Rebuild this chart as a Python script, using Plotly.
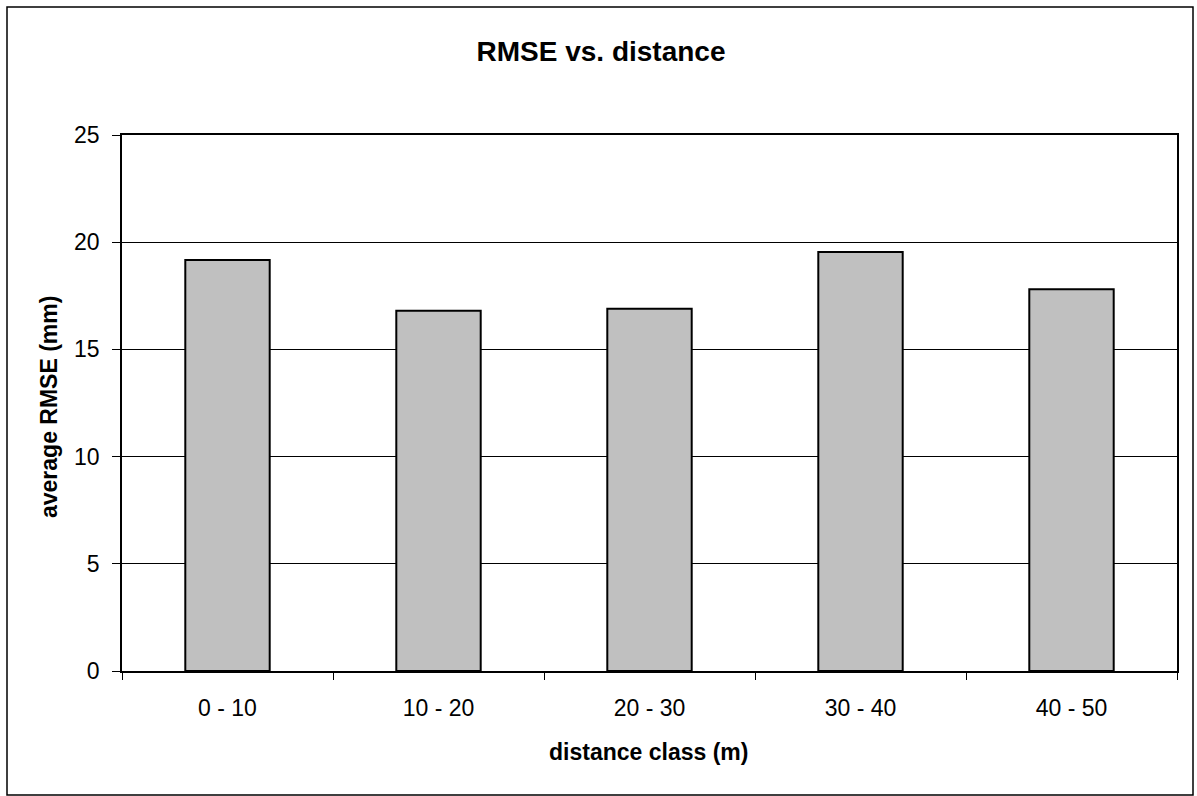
import plotly.graph_objects as go

categories = ["0 - 10", "10 - 20", "20 - 30", "30 - 40", "40 - 50"]
rmse = [19.17, 16.80, 16.90, 19.54, 17.80]
y_ticks = [0, 5, 10, 15, 20, 25]

W, H = 1197, 796
L, R, T, B = 122, 20, 135, 125
pw = W - L - R
ph = H - T - B

def px(x):
    return (x - L) / pw

def py(y):
    return (H - B - y) / ph

FONT = "Liberation Sans, Arial, sans-serif"
n = len(categories)

fig = go.Figure()
fig.add_trace(go.Bar(
    x=categories, y=rmse,
    marker=dict(color="#c0c0c0", line=dict(color="black", width=2)),
    hoverinfo="x+y",
))

fig.update_layout(
    width=W, height=H,
    margin=dict(l=L, r=R, t=T, b=B),
    paper_bgcolor="white", plot_bgcolor="white",
    bargap=0.6,
    showlegend=False,
    font=dict(family=FONT, color="black", size=23),
    title=dict(text="<b>RMSE vs. distance</b>", x=601 / W, xref="container",
               xanchor="center", y=1 - 51 / H, yref="container", yanchor="middle",
               font=dict(size=28)),
    shapes=[dict(type="rect", xref="paper", yref="paper",
                 x0=px(7), x1=px(1193), y0=py(795), y1=py(7),
                 line=dict(color="black", width=1.5), fillcolor="rgba(0,0,0,0)")],
    annotations=[
        dict(text="<b>distance class (m)</b>", xref="paper", yref="paper",
             x=px(648), y=py(752), xanchor="center", yanchor="middle",
             showarrow=False, font=dict(size=23)),
        dict(text="<b>average RMSE (mm)</b>", xref="paper", yref="paper",
             x=px(49), y=py(407), xanchor="center", yanchor="middle",
             textangle=-90, showarrow=False, font=dict(size=23)),
    ],
)

fig.update_xaxes(
    showline=True, linecolor="black", linewidth=1.5, mirror=True,
    ticks="", showgrid=False,
    tickfont=dict(size=23),
    ticklabelstandoff=16,
)
fig.update_yaxes(
    range=[0, 25], tickvals=y_ticks,
    showline=True, linecolor="black", linewidth=1.5, mirror=True,
    ticks="outside", ticklen=8, tickcolor="black", tickwidth=1,
    showgrid=True, gridcolor="black", gridwidth=1,
    tickfont=dict(size=23),
    ticklabelstandoff=8,
)

# category boundary tick marks on x axis (drawn with a secondary axis)
fig.update_layout(xaxis2=dict(
    overlaying="x", range=[-0.5, n - 0.5],
    tickvals=[i - 0.5 for i in range(n + 1)],
    ticktext=[""] * (n + 1),
    ticks="outside", ticklen=8, tickcolor="black", tickwidth=1,
    showgrid=False, showline=False, zeroline=False, side="bottom", anchor="y",
))
fig.add_trace(go.Scatter(x=[-0.5, n - 0.5], y=[0, 0], xaxis="x2", mode="lines",
                         line=dict(width=0), opacity=0,
                         showlegend=False, hoverinfo="skip"))

fig.write_html("out.html")
